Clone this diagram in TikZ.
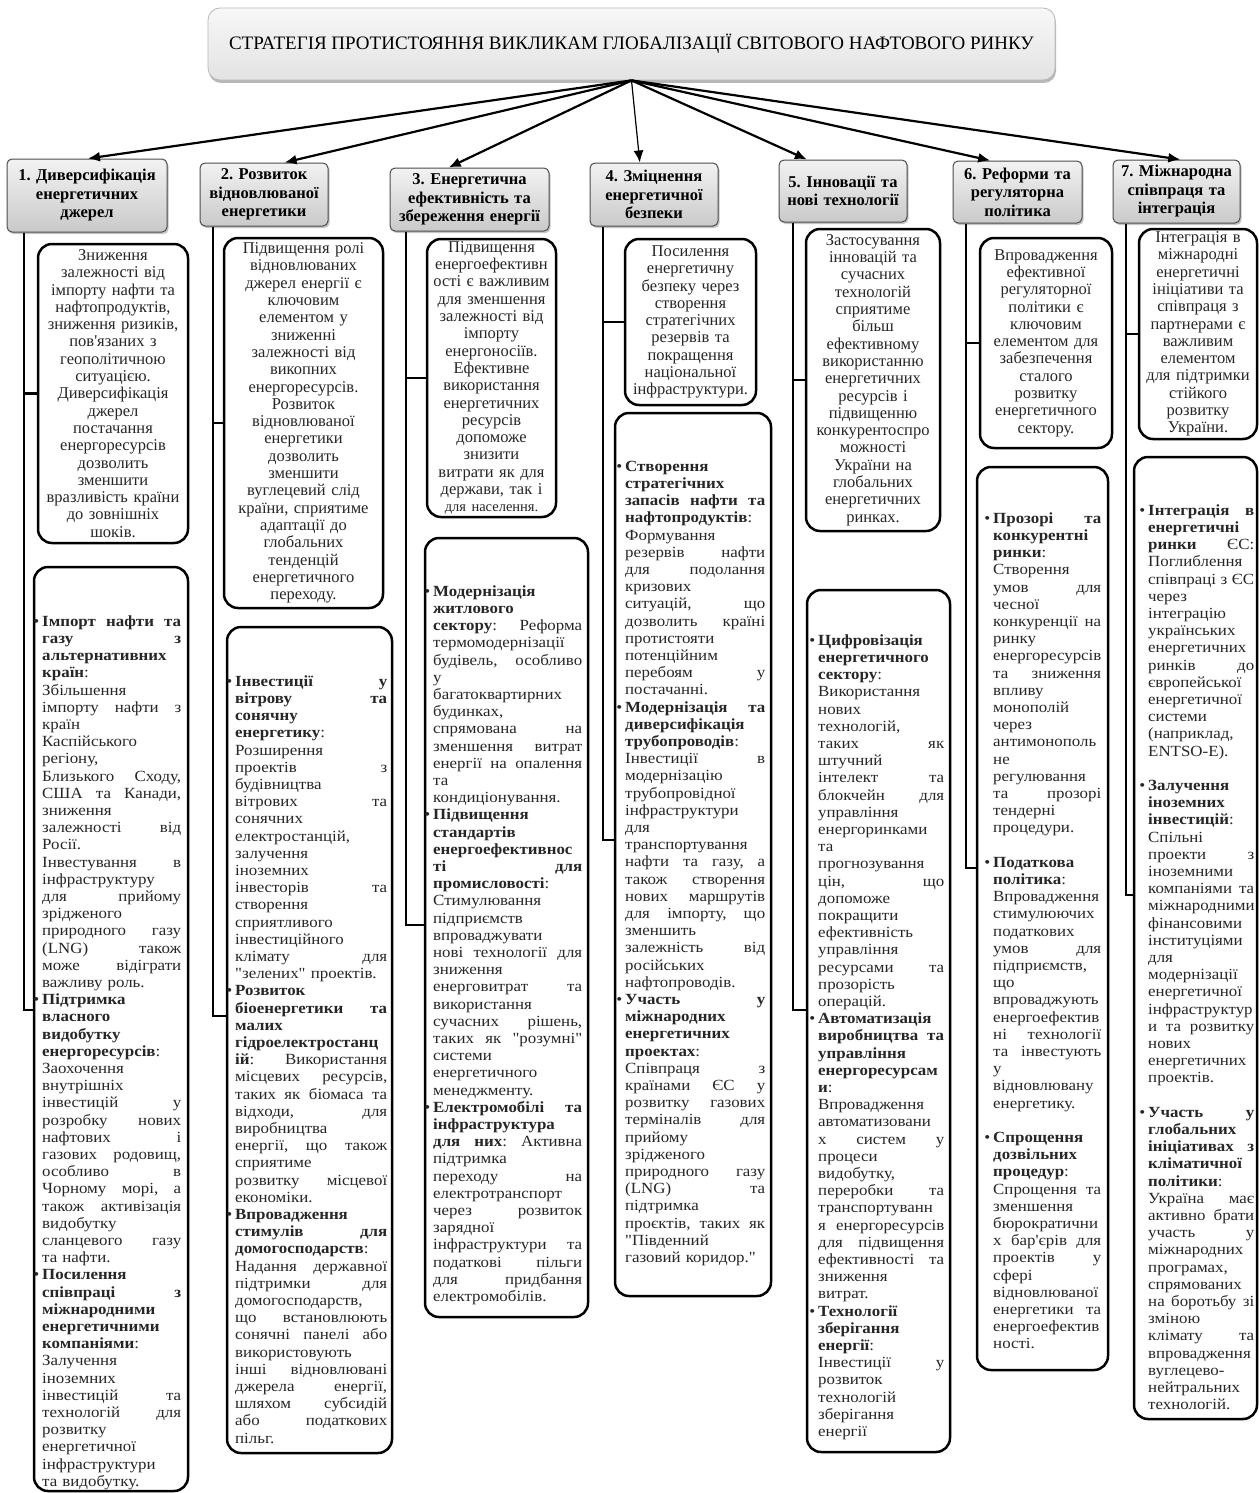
\documentclass[tikz,border=0pt]{standalone}
\usepackage{fontspec}
\setmainfont{Liberation Serif}[Ligatures=TeXOff]
\newfontfamily\lofam{Liberation Serif}[FakeStretch=1.09, Ligatures=TeXOff]
\usetikzlibrary{arrows.meta,shadows,calc}
\frenchspacing

\newcommand\titlefont{\fontsize{19}{21}\selectfont}
\newcommand\headfont{\fontsize{16.5}{18.5}\selectfont\bfseries}
\newcommand\upfont{\fontsize{16.5}{17.3}\selectfont}
\newcommand\lofont{\lofam\fontsize{15.5}{17.2}\selectfont\lineskiplimit=-100pt\hbadness=10000\hfuzz=60pt}
\newlength\LW
\newcommand\JL[1]{\hbox to\LW{\spaceskip=0.25em plus 1fil\relax\strut#1}}
\newcommand\EL[1]{\hbox{\strut#1}}
\newcommand\BU{\llap{\textbullet\hspace{3pt}}}
\newcommand\GAP{\vskip17.2pt}

\tikzset{
 conn/.style={line width=2.5pt, draw=black},
 arr/.style={line width=2.2pt, -{Latex[length=12pt,width=10pt]}},
 titlebox/.style={rounded corners=12pt, draw=gray!55, line width=0.8pt, top color=gray!6, bottom color=gray!22,
   drop shadow={shadow xshift=1pt,shadow yshift=-3pt,fill=black!55}, inner sep=0pt, font=\titlefont, text=black},
 headbox/.style={rounded corners=5pt, draw=gray!60!black, line width=1pt, top color=gray!10, bottom color=gray!42,
   drop shadow={shadow xshift=1.5pt,shadow yshift=-2pt,fill=black!45}, inner sep=0pt, align=center, font=\headfont},
 ubox/.style={rounded corners=14pt, draw=black, line width=2.5pt, fill=white, inner sep=0pt, align=center, font=\upfont, text=black!85},
 lbox/.style={rounded corners=14pt, draw=black, line width=2.5pt, fill=white, inner sep=0pt},
 ltext/.style={inner sep=0pt, anchor=north west, font=\lofont, text=black!85},
}

\begin{document}
\begin{tikzpicture}[x=1pt,y=-1pt]
\useasboundingbox (0,0) rectangle (1258,1493);
\fill[white] (0,0) rectangle (1258,1493);

% title
\node[titlebox, minimum width=847pt, minimum height=72pt] (T) at (631.5,44)
 {СТРАТЕГІЯ ПРОТИСТОЯННЯ ВИКЛИКАМ ГЛОБАЛІЗАЦІЇ СВІТОВОГО НАФТОВОГО РИНКУ};

% headings
\node[headbox, minimum width=160pt, minimum height=73pt, text width=154pt] (h1) at (87,195.5) {1. Диверсифікація\\енергетичних\\джерел};
\node[headbox, minimum width=128pt, minimum height=63pt, text width=124pt] (h2) at (264,194.5) {2. Розвиток\\відновлюваної\\енергетики};
\node[headbox, minimum width=159pt, minimum height=63pt, text width=155pt] (h3) at (469.5,199.5) {3. Енергетична\\ефективність та\\збереження енергії};
\node[headbox, minimum width=128pt, minimum height=63pt, text width=124pt] (h4) at (654,194.5) {4. Зміцнення\\енергетичної\\безпеки};
\node[headbox, minimum width=128pt, minimum height=62pt, text width=124pt] (h5) at (843,191) {5. Інновації та\\нові технології};
\node[headbox, minimum width=129pt, minimum height=62pt, text width=125pt] (h6) at (1017.5,192) {6. Реформи та\\регуляторна\\політика};
\node[headbox, minimum width=127pt, minimum height=63pt, text width=123pt] (h7) at (1176.5,191.5) {7. Міжнародна\\співпраця та\\інтеграція};

% arrows
\draw[arr] (T.south) -- ($(h1.north west)!0.506!(h1.north east)$);
\draw[arr] (T.south) -- ($(h2.north west)!0.66!(h2.north east)$);
\draw[arr] (T.south) -- ($(h3.north west)!0.37!(h3.north east)$);
\draw[arr, line width=1.2pt] (T.south) -- ($(h4.north west)!0.39!(h4.north east)$);
\draw[arr] (T.south) -- ($(h5.north west)!0.22!(h5.north east)$);
\draw[arr] (T.south) -- ($(h6.north west)!0.29!(h6.north east)$);
\draw[arr] (T.south) -- ($(h7.north west)!0.53!(h7.north east)$);

% connector coordinates
\coordinate (c1) at (24,1010);
\coordinate (c2) at (213,1016);
\coordinate (c3) at (406,925);
\coordinate (c4) at (603,840);
\coordinate (c5) at (793,1010);
\coordinate (c6) at (966,868);
\coordinate (c7) at (1126,895);

% upper boxes
\node[ubox, minimum width=150pt, minimum height=299pt, text width=142pt] (u1) at (113,393.5)
 {Зниження\\залежності від\\імпорту нафти та\\нафтопродуктів,\\зниження ризиків,\\пов'язаних з\\геополітичною\\ситуацією.\\Диверсифікація\\джерел\\постачання\\енергоресурсів\\дозволить\\зменшити\\вразливість країни\\до зовнішніх\\шоків.};
\node[ubox, minimum width=159pt, minimum height=370pt, text width=151pt] (u2) at (303.5,423)
 {Підвищення ролі\\відновлюваних\\джерел енергії є\\ключовим\\елементом у\\зниженні\\залежності від\\викопних\\енергоресурсів.\\Розвиток\\відновлюваної\\енергетики\\дозволить\\зменшити\\вуглецевий слід\\країни, сприятиме\\адаптації до\\глобальних\\тенденцій\\енергетичного\\переходу.};
\node[ubox, minimum width=129pt, minimum height=278pt, text width=125pt] (u3) at (491.5,378)
 {Підвищення\\енергоефективн\\ості є важливим\\для зменшення\\залежності від\\імпорту\\енергоносіїв.\\Ефективне\\використання\\енергетичних\\ресурсів\\допоможе\\знизити\\витрати як для\\держави, так і\\{\fontsize{14.5}{17.3}\selectfont для населення.}};
\node[ubox, minimum width=131pt, minimum height=166pt, text width=125pt] (u4) at (690.5,322)
 {Посилення\\енергетичну\\безпеку через\\створення\\стратегічних\\резервів та\\покращення\\національної\\інфраструктури.};
\node[ubox, minimum width=134pt, minimum height=302pt, text width=128pt] (u5) at (873,380)
 {Застосування\\інновацій та\\сучасних\\технологій\\сприятиме\\більш\\ефективному\\використанню\\енергетичних\\ресурсів і\\підвищенню\\конкурентоспро\\можності\\України на\\глобальних\\енергетичних\\ринках.};
\node[ubox, minimum width=132pt, minimum height=210pt, text width=126pt] (u6) at (1046,343)
 {Впровадження\\ефективної\\регуляторної\\політики є\\ключовим\\елементом для\\забезпечення\\сталого\\розвитку\\енергетичного\\сектору.};
\node[ubox, minimum width=118pt, minimum height=210pt, text width=114pt] (u7) at (1198,334)
 {Інтеграція в\\міжнародні\\енергетичні\\ініціативи та\\співпраця з\\партнерами є\\важливим\\елементом\\для підтримки\\стійкого\\розвитку\\України.};

% lower boxes
\node[lbox, minimum width=154pt, minimum height=924pt] (l1) at (111,1029) {};
\node[lbox, minimum width=165pt, minimum height=826pt] (l2) at (309.5,1040) {};
\node[lbox, minimum width=163pt, minimum height=779pt] (l3) at (506.5,927.5) {};
\node[lbox, minimum width=156pt, minimum height=883pt] (l4) at (693,854.5) {};
\node[lbox, minimum width=143pt, minimum height=862pt] (l5) at (878.5,1021) {};
\node[lbox, minimum width=131pt, minimum height=903pt] (l6) at (1042.5,918.5) {};
\node[lbox, minimum width=123pt, minimum height=962pt] (l7) at (1195.5,938) {};

% connectors
\foreach \i in {1,...,7}{
  \draw[conn] (h\i.south -| c\i) -- (c\i) -- (c\i -| l\i.west);
  \draw[conn] (u\i.west -| c\i) -- (u\i.west);
}

% lower texts
\node[ltext, text width=139pt] (t1) at (42,614) {\setlength\LW{139pt}%
\JL{\BU\textbf{Імпорт нафти та}}
\JL{\textbf{газу з}}
\JL{\textbf{альтернативних}}
\JL{\textbf{країн}:}
\JL{Збільшення}
\JL{імпорту нафти з}
\JL{країн}
\JL{Каспійського}
\JL{регіону,}
\JL{Близького Сходу,}
\JL{США та Канади,}
\JL{зниження}
\JL{залежності від}
\JL{Росії.}
\JL{Інвестування в}
\JL{інфраструктуру}
\JL{для прийому}
\JL{зрідженого}
\JL{природного газу}
\JL{(LNG) також}
\JL{може відіграти}
\EL{важливу роль.}
\JL{\BU\textbf{Підтримка}}
\JL{\textbf{власного}}
\JL{\textbf{видобутку}}
\JL{\textbf{енергоресурсів}:}
\JL{Заохочення}
\JL{внутрішніх}
\JL{інвестицій у}
\JL{розробку нових}
\JL{нафтових і}
\JL{газових родовищ,}
\JL{особливо в}
\JL{Чорному морі, а}
\JL{також активізація}
\JL{видобутку}
\JL{сланцевого газу}
\EL{та нафти.}
\JL{\BU\textbf{Посилення}}
\JL{\textbf{співпраці з}}
\JL{\textbf{міжнародними}}
\JL{\textbf{енергетичними}}
\JL{\textbf{компаніями}:}
\JL{Залучення}
\JL{іноземних}
\JL{інвестицій та}
\JL{технологій для}
\JL{розвитку}
\JL{енергетичної}
\JL{інфраструктури}
\EL{та видобутку.}};

\node[ltext, text width=152pt] (t2) at (235,674) {\setlength\LW{152pt}%
\JL{\BU\textbf{Інвестиції у}}
\JL{\textbf{вітрову та}}
\JL{\textbf{сонячну}}
\JL{\textbf{енергетику}:}
\JL{Розширення}
\JL{проектів з}
\JL{будівництва}
\JL{вітрових та}
\JL{сонячних}
\JL{електростанцій,}
\JL{залучення}
\JL{іноземних}
\JL{інвесторів та}
\JL{створення}
\JL{сприятливого}
\JL{інвестиційного}
\JL{клімату для}
\EL{"зелених" проектів.}
\JL{\BU\textbf{Розвиток}}
\JL{\textbf{біоенергетики та}}
\JL{\textbf{малих}}
\JL{\textbf{гідроелектростанц}}
\JL{\textbf{ій}: Використання}
\JL{місцевих ресурсів,}
\JL{таких як біомаса та}
\JL{відходи, для}
\JL{виробництва}
\JL{енергії, що також}
\JL{сприятиме}
\JL{розвитку місцевої}
\EL{економіки.}
\JL{\BU\textbf{Впровадження}}
\JL{\textbf{стимулів для}}
\JL{\textbf{домогосподарств}:}
\JL{Надання державної}
\JL{підтримки для}
\JL{домогосподарств,}
\JL{що встановлюють}
\JL{сонячні панелі або}
\JL{використовують}
\JL{інші відновлювані}
\JL{джерела енергії,}
\JL{шляхом субсидій}
\JL{або податкових}
\EL{пільг.}};

\node[ltext, text width=149pt] (t3) at (433,584) {\setlength\LW{149pt}%
\JL{\BU\textbf{Модернізація}}
\JL{\textbf{житлового}}
\JL{\textbf{сектору}: Реформа}
\JL{термомодернізації}
\JL{будівель, особливо}
\JL{у}
\JL{багатоквартирних}
\JL{будинках,}
\JL{спрямована на}
\JL{зменшення витрат}
\JL{енергії на опалення}
\JL{та}
\EL{кондиціонування.}
\JL{\BU\textbf{Підвищення}}
\JL{\textbf{стандартів}}
\JL{\textbf{енергоефективнос}}
\JL{\textbf{ті для}}
\JL{\textbf{промисловості}:}
\JL{Стимулювання}
\JL{підприємств}
\JL{впроваджувати}
\JL{нові технології для}
\JL{зниження}
\JL{енерговитрат та}
\JL{використання}
\JL{сучасних рішень,}
\JL{таких як "розумні"}
\JL{системи}
\JL{енергетичного}
\EL{менеджменту.}
\JL{\BU\textbf{Електромобілі та}}
\JL{\textbf{інфраструктура}}
\JL{\textbf{для них}: Активна}
\JL{підтримка}
\JL{переходу на}
\JL{електротранспорт}
\JL{через розвиток}
\JL{зарядної}
\JL{інфраструктури та}
\JL{податкові пільги}
\JL{для придбання}
\EL{електромобілів.}};

\node[ltext, text width=140pt] (t4) at (625,459) {\setlength\LW{140pt}%
\JL{\BU\textbf{Створення}}
\JL{\textbf{стратегічних}}
\JL{\textbf{запасів нафти та}}
\JL{\textbf{нафтопродуктів}:}
\JL{Формування}
\JL{резервів нафти}
\JL{для подолання}
\JL{кризових}
\JL{ситуацій, що}
\JL{дозволить країні}
\JL{протистояти}
\JL{потенційним}
\JL{перебоям у}
\EL{постачанні.}
\JL{\BU\textbf{Модернізація та}}
\JL{\textbf{диверсифікація}}
\JL{\textbf{трубопроводів}:}
\JL{Інвестиції в}
\JL{модернізацію}
\JL{трубопровідної}
\JL{інфраструктури}
\JL{для}
\JL{транспортування}
\JL{нафти та газу, а}
\JL{також створення}
\JL{нових маршрутів}
\JL{для імпорту, що}
\JL{зменшить}
\JL{залежність від}
\JL{російських}
\EL{нафтопроводів.}
\JL{\BU\textbf{Участь у}}
\JL{\textbf{міжнародних}}
\JL{\textbf{енергетичних}}
\JL{\textbf{проектах}:}
\JL{Співпраця з}
\JL{країнами ЄС у}
\JL{розвитку газових}
\JL{терміналів для}
\JL{прийому}
\JL{зрідженого}
\JL{природного газу}
\JL{(LNG) та}
\JL{підтримка}
\JL{проєктів, таких як}
\JL{"Південний}
\EL{газовий коридор."}};

\node[ltext, text width=126pt] (t5) at (818,633) {\setlength\LW{126pt}%
\JL{\BU\textbf{Цифровізація}}
\JL{\textbf{енергетичного}}
\JL{\textbf{сектору}:}
\JL{Використання}
\JL{нових}
\JL{технологій,}
\JL{таких як}
\JL{штучний}
\JL{інтелект та}
\JL{блокчейн для}
\JL{управління}
\JL{енергоринками}
\JL{та}
\JL{прогнозування}
\JL{цін, що}
\JL{допоможе}
\JL{покращити}
\JL{ефективність}
\JL{управління}
\JL{ресурсами та}
\JL{прозорість}
\EL{операцій.}
\JL{\BU\textbf{Автоматизація}}
\JL{\textbf{виробництва та}}
\JL{\textbf{управління}}
\JL{\textbf{енергоресурсам}}
\JL{\textbf{и}:}
\JL{Впровадження}
\JL{автоматизовани}
\JL{х систем у}
\JL{процеси}
\JL{видобутку,}
\JL{переробки та}
\JL{транспортуванн}
\JL{я енергоресурсів}
\JL{для підвищення}
\JL{ефективності та}
\JL{зниження}
\EL{витрат.}
\JL{\BU\textbf{Технології}}
\JL{\textbf{зберігання}}
\JL{\textbf{енергії}:}
\JL{Інвестиції у}
\JL{розвиток}
\JL{технологій}
\JL{зберігання}
\EL{енергії}};

\node[ltext, text width=108pt] (t6) at (993,511) {\setlength\LW{108pt}%
\JL{\BU\textbf{Прозорі та}}
\JL{\textbf{конкурентні}}
\JL{\textbf{ринки}:}
\JL{Створення}
\JL{умов для}
\JL{чесної}
\JL{конкуренції на}
\JL{ринку}
\JL{енергоресурсів}
\JL{та зниження}
\JL{впливу}
\JL{монополій}
\JL{через}
\JL{антимонополь}
\JL{не}
\JL{регулювання}
\JL{та прозорі}
\JL{тендерні}
\EL{процедури.}
\GAP
\JL{\BU\textbf{Податкова}}
\JL{\textbf{політика}:}
\JL{Впровадження}
\JL{стимулюючих}
\JL{податкових}
\JL{умов для}
\JL{підприємств,}
\JL{що}
\JL{впроваджують}
\JL{енергоефектив}
\JL{ні технології}
\JL{та інвестують}
\JL{у}
\JL{відновлювану}
\EL{енергетику.}
\GAP
\JL{\BU\textbf{Спрощення}}
\JL{\textbf{дозвільних}}
\JL{\textbf{процедур}:}
\JL{Спрощення та}
\JL{зменшення}
\JL{бюрократични}
\JL{х бар'єрів для}
\JL{проектів у}
\JL{сфері}
\JL{відновлюваної}
\JL{енергетики та}
\JL{енергоефектив}
\EL{ності.}};

\node[ltext, text width=106pt] (t7) at (1148,503) {\setlength\LW{106pt}%
\JL{\BU\textbf{Інтеграція в}}
\JL{\textbf{енергетичні}}
\JL{\textbf{ринки} ЄС:}
\JL{Поглиблення}
\JL{співпраці з ЄС}
\JL{через}
\JL{інтеграцію}
\JL{українських}
\JL{енергетичних}
\JL{ринків до}
\JL{європейської}
\JL{енергетичної}
\JL{системи}
\JL{(наприклад,}
\EL{ENTSO-E).}
\GAP
\JL{\BU\textbf{Залучення}}
\JL{\textbf{іноземних}}
\JL{\textbf{інвестицій}:}
\JL{Спільні}
\JL{проекти з}
\JL{іноземними}
\JL{компаніями та}
\JL{міжнародними}
\JL{фінансовими}
\JL{інституціями}
\JL{для}
\JL{модернізації}
\JL{енергетичної}
\JL{інфраструктур}
\JL{и та розвитку}
\JL{нових}
\JL{енергетичних}
\EL{проектів.}
\GAP
\JL{\BU\textbf{Участь у}}
\JL{\textbf{глобальних}}
\JL{\textbf{ініціативах з}}
\JL{\textbf{кліматичної}}
\JL{\textbf{політики}:}
\JL{Україна має}
\JL{активно брати}
\JL{участь у}
\JL{міжнародних}
\JL{програмах,}
\JL{спрямованих}
\JL{на боротьбу зі}
\JL{зміною}
\JL{клімату та}
\JL{впровадження}
\JL{вуглецево-}
\JL{нейтральних}
\EL{технологій.}};

\end{tikzpicture}
\end{document}
